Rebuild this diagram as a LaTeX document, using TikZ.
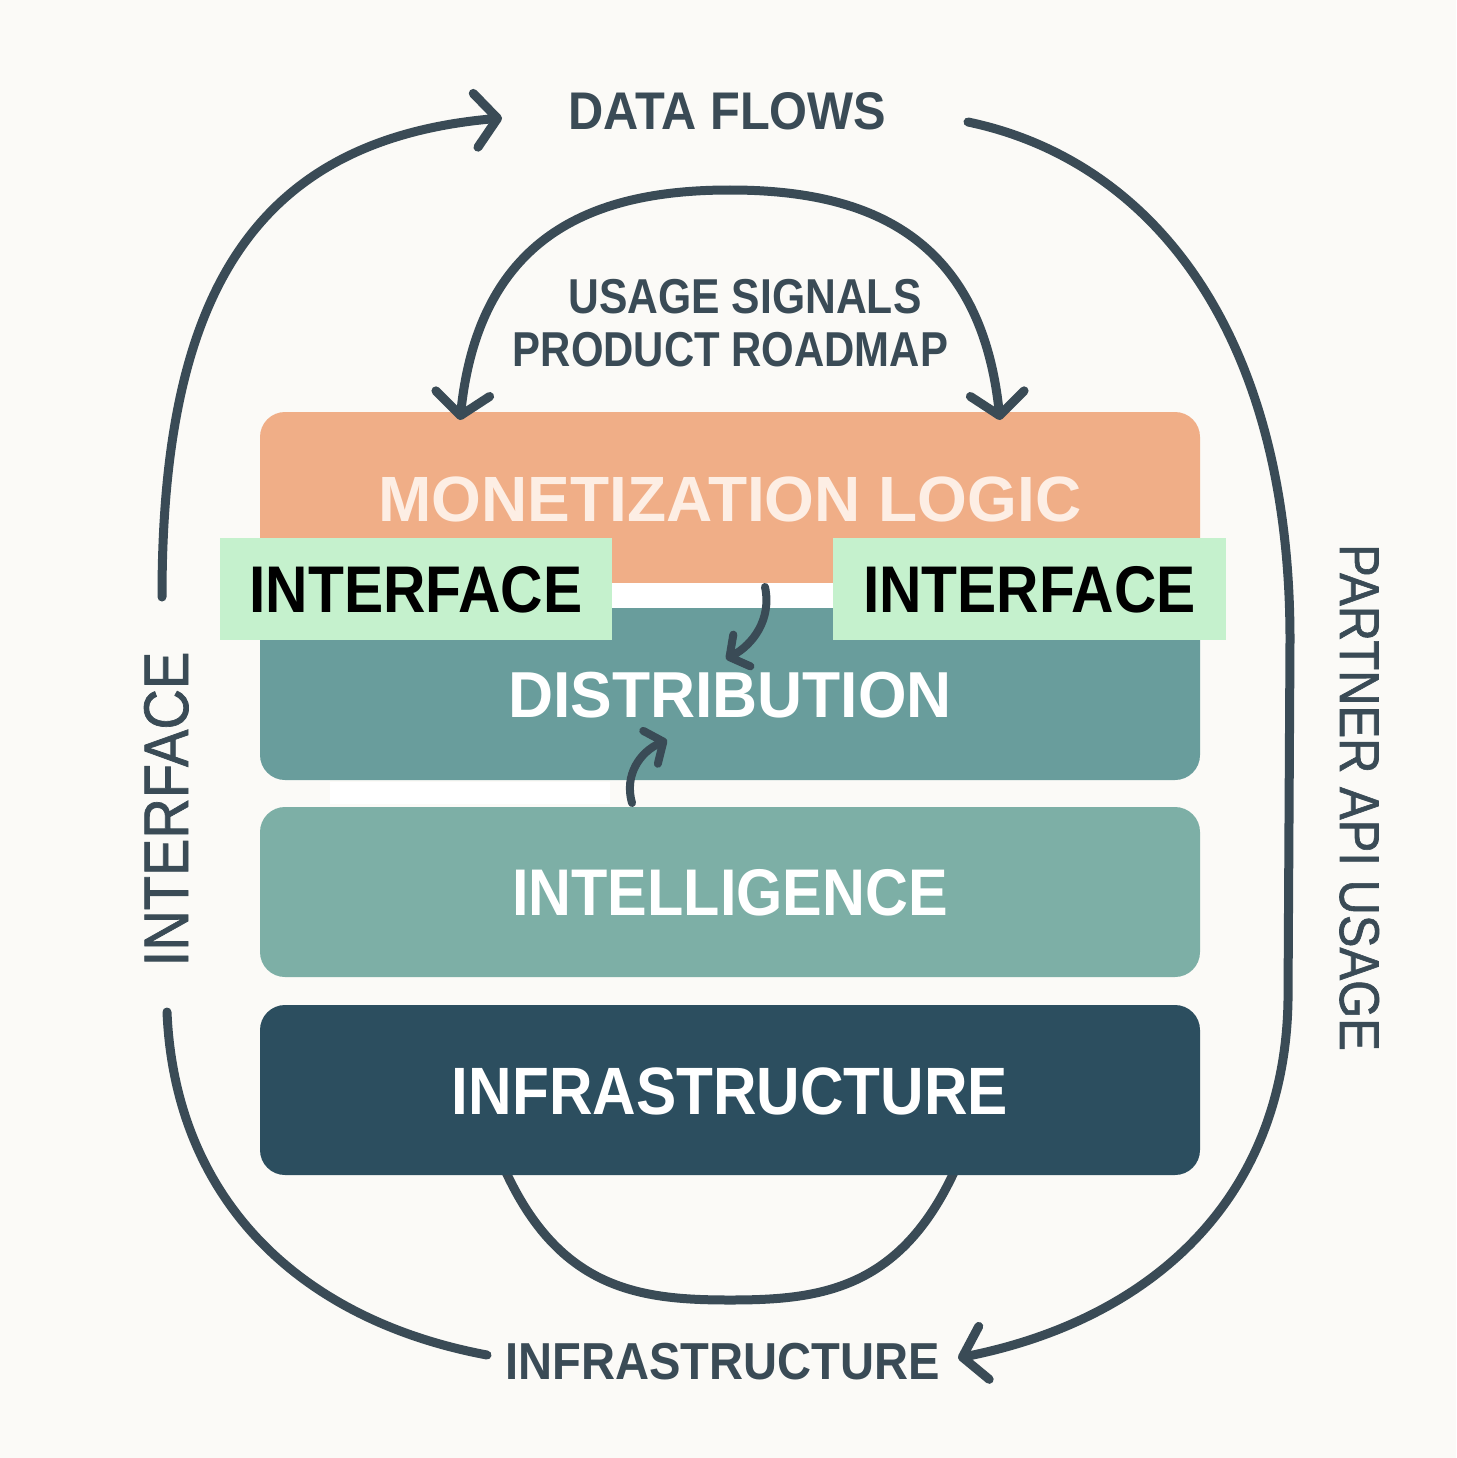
\documentclass[tikz,border=0pt]{standalone}
\usepackage{fontspec}
\setmainfont{Liberation Sans}
\newfontfamily\semib{Liberation Sans}[FakeBold=1.2]
\usetikzlibrary{arrows.meta}
\definecolor{bg}{HTML}{FBFAF7}
\definecolor{orng}{HTML}{F0AE87}
\definecolor{orngtxt}{HTML}{FDEEE4}
\definecolor{distc}{HTML}{699D9C}
\definecolor{intelc}{HTML}{7DAFA6}
\definecolor{infrac}{HTML}{2C4E5F}
\definecolor{grn}{HTML}{C5F1CD}
\definecolor{ink}{HTML}{3A4B56}
\tikzset{
  layer/.style={rounded corners=25pt, minimum width=940pt, inner sep=0pt, text depth=0pt, text=white, font=\bfseries},
  iface/.style={fill=grn, inner sep=0pt, text=black, text depth=0pt, font=\bfseries},
  glabel/.style={inner sep=0pt, anchor=base, text=ink},
  flow/.style={draw=ink, line width=9pt, line cap=round, line join=round},
  barb/.style={-{Straight Barb[length=22pt,width=54pt,round]}},
  dbarb/.style={{Straight Barb[length=22pt,width=54pt,round]}-{Straight Barb[length=22pt,width=54pt,round]}},
  sbarb/.style={-{Straight Barb[length=14pt,width=36pt,round]}},
}
\newcommand\fs[1]{\fontsize{#1}{#1}\selectfont}
\begin{document}
\begin{tikzpicture}[x=1pt,y=-1pt]
\useasboundingbox (0,0) rectangle (1456,1458);
\fill[bg] (0,0) rectangle (1456,1458);

% coordinates for the loops
\coordinate (lt0) at (162,597);
\coordinate (lt1) at (502,118);
\coordinate (rt0) at (968,122);
\coordinate (rt1) at (1290,640);
\coordinate (rt2) at (1288,1000);
\coordinate (rt3) at (958,1358);
\coordinate (lb0) at (167,1012);
\coordinate (lb1) at (487,1355);
\coordinate (ua) at (460,420);
\coordinate (utop) at (730,190);
\coordinate (ub) at (1000,420);
\coordinate (ba) at (505,1170);
\coordinate (bbot) at (730,1300);
\coordinate (bb) at (955,1170);

% bottom arc under infrastructure
\draw[flow] (ba) .. controls (560,1290) and (640,1300) .. (bbot) .. controls (820,1300) and (900,1290) .. (bb);

% layers
\node[layer, fill=orng, text=orngtxt, minimum height=173pt, text height=45.8pt] (mono) at (730,498.5) {\fs{64}\scalebox{1.0}[1]{MONETIZATION LOGIC}};
\fill[white] (612,583) rectangle (833,609);
\node[layer, fill=distc, minimum height=172pt, text height=46.5pt] (dist) at (730,694) {\fs{65}\scalebox{0.96}[1]{DISTRIBUTION}};
\fill[white] (330,782) rectangle (610,804);
\node[layer, fill=intelc, minimum height=170pt, text height=47.3pt] (intel) at (730,892) {\fs{66}\scalebox{0.9}[1]{INTELLIGENCE}};
\node[layer, fill=infrac, minimum height=170pt, text height=48pt] (infra) at (730,1090) {\fs{67}\scalebox{0.9}[1]{INFRASTRUCTURE}};

% interface labels
\node[iface, minimum width=392pt, minimum height=102pt, text height=47.3pt] (ifl) at (416,589) {\fs{66}\scalebox{0.89}[1]{INTERFACE}};
\node[iface, minimum width=393pt, minimum height=102pt, text height=47.3pt] (ifr) at (1029.5,589) {\fs{66}\scalebox{0.89}[1]{INTERFACE}};

% small arrows between layers
\coordinate (s1a) at (765,587);
\coordinate (s1b) at (726,659);
\coordinate (s2a) at (632,803);
\coordinate (s2b) at (667,740);
\draw[flow, line width=8pt, sbarb] (s1a) .. controls (772,620) and (752,645) .. (s1b);
\draw[flow, line width=8pt, sbarb] (s2a) .. controls (624,775) and (640,752) .. (s2b);

% outer loops
\draw[flow, barb] (lt0) .. controls (162,300) and (250,140) .. (lt1);
\draw[flow, barb] (rt0) .. controls (1150,160) and (1290,330) .. (rt1) -- (rt2) .. controls (1285,1200) and (1150,1320) .. (rt3);
\draw[flow] (lb0) .. controls (175,1200) and (300,1320) .. (lb1);
\draw[flow, dbarb] (ua) .. controls (480,230) and (600,190) .. (utop) .. controls (860,190) and (980,230) .. (ub);

% labels
\node[glabel] (df) at (727.5,130) {\fs{53}\bfseries\scalebox{0.92}[1]{DATA FLOWS}};
\node[glabel] (us) at (745,313) {\fs{49}\bfseries\scalebox{0.87}[1]{USAGE SIGNALS}};
\node[glabel] (pr) at (730.5,366) {\fs{49}\bfseries\scalebox{0.855}[1]{PRODUCT ROADMAP}};
\node[glabel] (ib) at (722.5,1379) {\fs{52}\bfseries\scalebox{0.906}[1]{INFRASTRUCTURE}};
\node[glabel, rotate=90] (ifv) at (188,809) {\fs{63}\semib\scalebox{0.89}[1]{INTERFACE}};
\node[glabel, rotate=-90] (pau) at (1340,797.5) {\fs{56}\semib\scalebox{0.874}[1]{PARTNER API USAGE}};
\end{tikzpicture}
\end{document}
